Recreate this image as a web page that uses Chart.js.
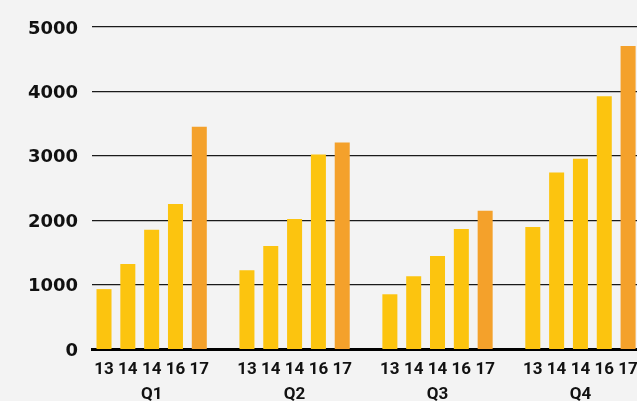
<!DOCTYPE html>
<html lang="en">
<head>
    <meta charset="UTF-8">
    <title>Quarterly Chart</title>
    <script src="https://cdn.jsdelivr.net/npm/chart.js"></script>
    <style>
        html, body {
            margin: 0;
            padding: 0;
            background: #f3f3f3;
            overflow: hidden;
        }

        .chart-box {
            width: 640px;
            height: 401px;
        }
    </style>
</head>
<body>
    <div class="chart-box">
        <canvas id="quarterChart"></canvas>
    </div>

    <script>
        // data
        const quarters = ['Q1', 'Q2', 'Q3', 'Q4'];
        const years = ['13', '14', '14', '16', '17'];
        const q1Values = [930, 1320, 1850, 2250, 3450];
        const q2Values = [1225, 1600, 2020, 3020, 3205];
        const q3Values = [850, 1130, 1445, 1865, 2145];
        const q4Values = [1895, 2740, 2955, 3925, 4705];
        const yTicks = [0, 1000, 2000, 3000, 4000, 5000];

        const YELLOW = '#fcc40f';
        const ORANGE = '#f4a12b';

        const groups = [q1Values, q2Values, q3Values, q4Values];
        const labels = [];
        const values = [];
        const colors = [];

        groups.forEach((vals, qi) => {
            vals.forEach((v, yi) => {
                labels.push(yi === 2 ? [years[yi], quarters[qi]] : years[yi]);
                values.push(v);
                colors.push(yi === years.length - 1 ? ORANGE : YELLOW);
            });
            if (qi < groups.length - 1) {
                // empty slot between quarters
                labels.push('');
                values.push(null);
                colors.push(YELLOW);
            }
        });

        const ctx = document.getElementById('quarterChart').getContext('2d');
        new Chart(ctx, {
            type: 'bar',
            data: {
                labels: labels,
                datasets: [{
                    data: values,
                    backgroundColor: colors,
                    borderWidth: 0,
                    barPercentage: 0.63,
                    categoryPercentage: 1
                }]
            },
            options: {
                responsive: true,
                maintainAspectRatio: false,
                animation: false,
                layout: {
                    padding: { left: 14, top: 27, right: 0, bottom: -7 }
                },
                plugins: {
                    legend: { display: false },
                    tooltip: { enabled: false }
                },
                scales: {
                    x: {
                        grid: { display: false },
                        border: { display: true, color: '#000', width: 3 },
                        ticks: {
                            color: '#111',
                            font: { family: 'Roboto', weight: 'bold', size: 17, lineHeight: 1.47 },
                            autoSkip: false,
                            maxRotation: 0,
                            padding: 0.5
                        }
                    },
                    y: {
                        min: 0,
                        max: 5000,
                        afterBuildTicks: axis => {
                            axis.ticks = yTicks.map(v => ({ value: v }));
                        },
                        grid: {
                            color: '#1a1a1a',
                            lineWidth: c => (c.tick && c.tick.value === 0 ? 0 : 1.2),
                            drawTicks: false
                        },
                        border: { display: false },
                        ticks: {
                            color: '#111',
                            font: { family: 'DejaVu Sans', weight: 'bold', size: 18 },
                            padding: 14,
                            labelOffset: 2,
                            callback: v => String(v)
                        }
                    }
                }
            }
        });
    </script>
</body>
</html>
